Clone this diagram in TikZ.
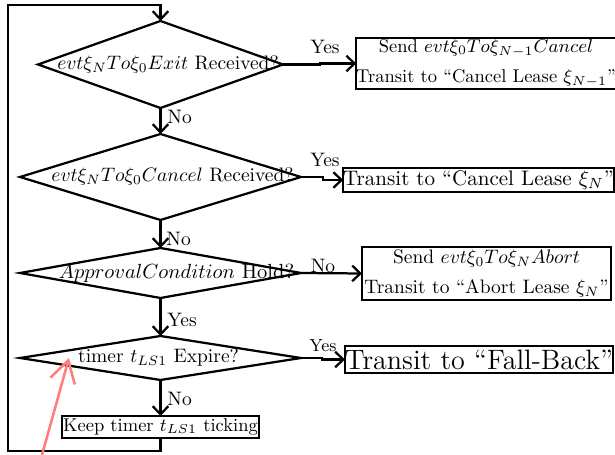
\RequirePackage{fix-cm}
\documentclass[tikz,border=0pt]{standalone}
\usetikzlibrary{shapes.geometric,arrows.meta}
\def\pu{0.513}
\definecolor{annot}{RGB}{255,125,125}
\tikzset{
  base/.style={line width=1.15pt},
  arr/.style={base,-{Straight Barb[length=4.2pt,width=8pt]}},
  dec/.style={draw,base,diamond,inner sep=0pt,outer sep=0pt},
  boxn/.style={draw,base,rectangle,inner sep=0pt,outer sep=0pt,align=center},
  lab/.style={inner sep=0pt},
}
\begin{document}
\begin{tikzpicture}[x=\pu pt,y=-\pu pt]
\useasboundingbox (0,0) rectangle (615,455);
% decisions
\node[dec,minimum width=245*\pu pt,minimum height=87*\pu pt] (d1) at (160.5,64.5)
  {\makebox[0pt]{\hspace{7.7pt}$evt\xi_NTo\xi_0Exit$ Received?}};
\node[dec,minimum width=281*\pu pt,minimum height=86*\pu pt] (d2) at (160.5,177)
  {\makebox[0pt]{\hspace{12.3pt}$evt\xi_NTo\xi_0Cancel$ Received?}};
\node[dec,minimum width=281*\pu pt,minimum height=50*\pu pt,font=\fontsize{10.5}{12.6}\selectfont] (d3) at (160.5,273)
  {\makebox[0pt]{\hspace{16.4pt}$ApprovalCondition$ Hold?}};
\node[dec,minimum width=281*\pu pt,minimum height=44*\pu pt] (d4) at (160.5,358)
  {\makebox[0pt]{\hspace{-2pt}timer $t_{LS1}$ Expire?}};
\node[boxn,minimum width=197*\pu pt,minimum height=22*\pu pt,font=\fontsize{9.5}{11.4}\selectfont] (keep) at (160.5,427)
  {Keep timer $t_{LS1}$ ticking};
% right boxes
\node[boxn,minimum width=256*\pu pt,minimum height=51*\pu pt,font=\fontsize{9.5}{11.4}\selectfont] (b1) at (486,63.5)
  {Send $evt\xi_0To\xi_{N-1}Cancel$\\[4pt]Transit to ``Cancel Lease $\xi_{N-1}$''};
\node[boxn,minimum width=267*\pu pt,minimum height=24*\pu pt,font=\fontsize{10.8}{13}\selectfont] (b2) at (478.5,180)
  {Transit to ``Cancel Lease $\xi_N$''};
\node[boxn,minimum width=249*\pu pt,minimum height=53*\pu pt] (b3) at (486.5,273.5)
  {Send $evt\xi_0To\xi_NAbort$\\[3.4pt]Transit to ``Abort Lease $\xi_N$''};
\node[boxn,minimum width=268*\pu pt,minimum height=27*\pu pt,font=\Large] (b4) at (479,359.5)
  {Transit to ``Fall-Back''};
% vertical flow
\draw[arr] (d1.south) -- (d2.north);
\draw[arr] (d2.south) -- (d3.north);
\draw[arr] (d3.south) -- (d4.north);
\draw[arr] (d4.south) -- (keep.north);
\coordinate (lb) at (8,451);
\coordinate (lt) at (8,5);
\draw[arr] (keep.south) |- (lb) -- (lt) -| (d1.north);
% horizontal flow
\draw[arr] (d1.east) -- ++(37,0) |- (b1.west);
\draw[arr] (d2.east) -- ++(22,0) |- (b2.west);
\draw[arr] (d3.east) -- (b3.west);
\draw[arr] (d4.east) -- ++(21,0) |- (b4.west);
% labels
\node[lab,anchor=west] (n1) at (167,117) {No};
\node[lab,anchor=west] (n2) at (166,239) {No};
\node[lab,anchor=west] (y3) at (167,320) {Yes};
\node[lab,anchor=west] (n4) at (167,399) {No};
\node[lab] (y1) at (325,47) {Yes};
\node[lab] (y2) at (325,160) {Yes};
\node[lab] (n3) at (323,266) {No};
\node[lab,font=\small] (y4) at (323,346) {Yes};
% annotation arrow
\coordinate (at) at (42,455);
\coordinate (ah) at (69,358);
\draw[annot,line width=1.3pt,-{Straight Barb[length=11pt,width=13pt]}] (at) -- (ah);
\end{tikzpicture}
\end{document}
